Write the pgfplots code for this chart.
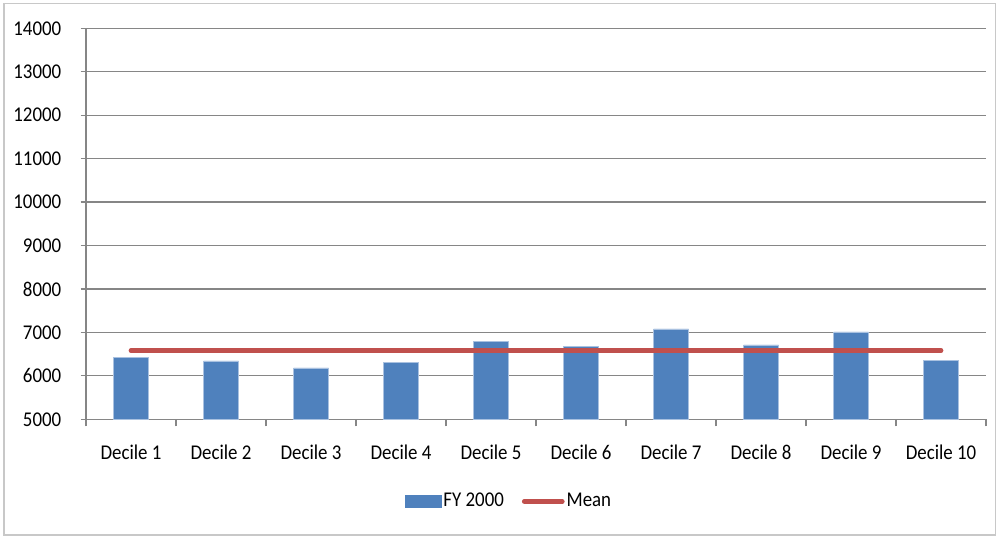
\documentclass[border=0pt]{standalone}
\usepackage{fontspec}
\setmainfont{Carlito}[FakeStretch=0.9]
\usepackage{pgfplots}
\pgfplotsset{compat=1.18}
\definecolor{barblue}{HTML}{4F81BD}
\definecolor{baredge}{HTML}{A9C1E0}
\definecolor{meanred}{HTML}{C0504D}
\definecolor{gridgray}{HTML}{868686}
\definecolor{framegray}{HTML}{C8C8C8}

\begin{document}
\fontsize{21bp}{24bp}\selectfont
\begin{tikzpicture}[x=1bp,y=1bp]
\useasboundingbox (0,0) rectangle (997,538);
\draw[framegray, line width=1.2bp] (4,3) rectangle (995.5,534.5);
\begin{axis}[
  at={(86bp,118.7bp)}, anchor=south west,
  scale only axis, width=900bp, height=391bp,
  xmin=0.5, xmax=10.5, ymin=5000, ymax=14000,
  axis x line=bottom, axis y line=left,
  axis line style={-, gridgray, line width=1.3bp},
  xtick={1,...,10},
  xticklabels={Decile 1,Decile 2,Decile 3,Decile 4,Decile 5,Decile 6,Decile 7,Decile 8,Decile 9,Decile 10},
  minor xtick={0.5,1.5,...,10.5},
  ytick={5000,6000,...,14000},
  scaled y ticks=false,
  tick align=outside,
  major tick length=5.5bp, minor tick length=7bp,
  x tick style={draw=none},
  minor x tick style={draw=gridgray, line width=1.3bp},
  y tick style={gridgray, line width=1.3bp},
  ymajorgrids, major grid style={gridgray, line width=1.3bp},
  /pgf/number format/assume math mode=true,
  /pgf/number format/1000 sep={},
  tick label style={font=\fontsize{21bp}{24bp}\selectfont, text=black},
  yticklabel style={anchor=east, xshift=-12bp},
  xticklabel style={yshift=-13bp},
  legend style={draw=none, fill=none, at={(0.47,-0.21)}, anchor=center,
    font=\fontsize{21bp}{24bp}\selectfont, legend columns=2,
    /tikz/every even column/.append style={column sep=16bp},
    inner sep=0pt},
  legend cell align=left,
]
\addplot[ybar, bar width=35bp, fill=barblue, draw=baredge, line width=0.6bp,
  legend image code/.code={\fill[barblue] (0bp,-6.3bp) rectangle (36bp,6.3bp);}]
  coordinates {(1,6427) (2,6342) (3,6181) (4,6312) (5,6796)
               (6,6680) (7,7079) (8,6711) (9,7010) (10,6349)};
\addlegendentry{FY 2000}
\addplot[meanred, line width=4.7bp, line cap=round,
  legend image code/.code={\draw[meanred, line width=4.7bp, line cap=round] (0bp,0bp) -- (38bp,0bp);}]
  coordinates {(1,6580) (10,6580)};
\addlegendentry{Mean}
\end{axis}
\end{tikzpicture}
\end{document}
